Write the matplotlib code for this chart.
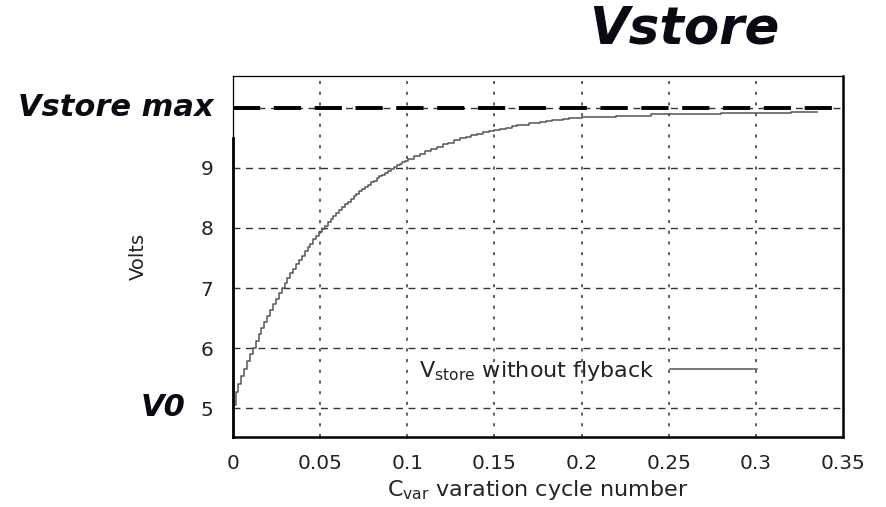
import matplotlib
matplotlib.use('Agg')
import matplotlib.pyplot as plt

# valores (escada da tensao Vstore)
ciclos = [0.0, 0.0015, 0.00315, 0.0048, 0.00645, 0.0081, 0.00975, 0.0114, 0.01305, 0.0147, 0.01635,
          0.018, 0.01965, 0.0213, 0.02295, 0.0246, 0.02625, 0.0279, 0.02955, 0.0312, 0.03285,
          0.0345, 0.03615, 0.0378, 0.03945, 0.0411, 0.04275, 0.0444, 0.04605, 0.0477, 0.04935,
          0.051, 0.05265, 0.0543, 0.05595, 0.0576, 0.05925, 0.0609, 0.06255, 0.0642, 0.06585,
          0.0675, 0.06915, 0.0708, 0.07245, 0.0741, 0.07575, 0.0774, 0.07905, 0.0807, 0.08235,
          0.084, 0.08565, 0.0873, 0.08895, 0.0906, 0.09225, 0.0939, 0.09555, 0.0972, 0.09885,
          0.1005, 0.1038, 0.1071, 0.1104, 0.1137, 0.117, 0.1203, 0.1236, 0.1269,
          0.1302, 0.1335, 0.1368, 0.1401, 0.1434, 0.1467, 0.15, 0.1533, 0.1566, 0.1599,
          0.1632, 0.1665, 0.1698, 0.1731, 0.1764, 0.1797, 0.183, 0.1863, 0.1896, 0.1929,
          0.1962, 0.2, 0.22, 0.24, 0.26, 0.28, 0.30, 0.32, 0.335]
vstore = [5.05, 5.27, 5.40, 5.53, 5.66, 5.78, 5.90, 6.01, 6.12, 6.23, 6.34,
          6.44, 6.54, 6.64, 6.73, 6.82, 6.91, 7.00, 7.08, 7.17, 7.25,
          7.32, 7.40, 7.47, 7.54, 7.61, 7.68, 7.74, 7.81, 7.87, 7.93,
          7.98, 8.04, 8.10, 8.15, 8.20, 8.25, 8.30, 8.35, 8.40, 8.44,
          8.48, 8.53, 8.57, 8.61, 8.65, 8.69, 8.72, 8.76, 8.79, 8.83,
          8.86, 8.89, 8.92, 8.95, 8.98, 9.01, 9.04, 9.07, 9.09, 9.12,
          9.14, 9.19, 9.23, 9.28, 9.32, 9.35, 9.39, 9.42, 9.46,
          9.49, 9.51, 9.54, 9.57, 9.59, 9.61, 9.63, 9.65, 9.67, 9.69,
          9.71, 9.72, 9.74, 9.75, 9.77, 9.78, 9.79, 9.80, 9.82, 9.83,
          9.83, 9.84, 9.87, 9.89, 9.90, 9.91, 9.92, 9.93, 9.93]

vstore_max = 10
v0 = 5
xticks = [0, 0.05, 0.1, 0.15, 0.2, 0.25, 0.3, 0.35]
xticklabels = ['0', '0.05', '0.1', '0.15', '0.2', '0.25', '0.3', '0.35']
yticks = [5, 6, 7, 8, 9]

plt.rcParams['font.family'] = ['DejaVu Sans']

fig = plt.figure(figsize=(8.87, 5.07), dpi=100)
ax = fig.add_axes([233/887, 70/507, 610/887, 361/507])

ax.set_xlim(0, 0.35)
ax.set_ylim(4.52, 10.53)

# grade
for x in xticks[1:-1]:
    ax.plot([x, x], [4.52, 10.53], color='#333333', lw=1.1, ls=(0, (2, 5)), zorder=1)
for y in yticks + [vstore_max]:
    ax.plot([0, 0.35], [y, y], color='#333333', lw=1.0, ls=(0, (5, 4)), zorder=1)

# linha Vstore max
ax.axhline(vstore_max, color='black', lw=2.8, ls=(0, (7, 3.5)), zorder=3)

ax.plot(ciclos, vstore, drawstyle='steps-post', color='#555555', lw=1.1, zorder=4,
        label='V$_{\\mathregular{store}}$ without flyback')

ax.set_xticks(xticks)
ax.set_xticklabels(xticklabels)
ax.set_yticks(yticks)
ax.tick_params(length=0, labelsize=14.5, colors='#222222')
ax.tick_params(axis='x', pad=12)
ax.tick_params(axis='y', pad=14)

ax.set_xlabel('C$_{\\mathregular{var}}$ varation cycle number', fontsize=16, color='#222222', labelpad=4)
ax.set_ylabel('Volts', fontsize=14, color='#222222', labelpad=38)

for lado in ['right', 'bottom']:
    ax.spines[lado].set_linewidth(1.8)
ax.spines['top'].set_linewidth(0.9)
ax.spines['left'].set_linewidth(0.9)
ax.plot([0, 0], [4.52, 9.5], color='black', lw=2.0, clip_on=False, zorder=5)

ax.legend(loc='center right', bbox_to_anchor=(757/887, 1 - 371/507),
          bbox_transform=fig.transFigure, frameon=False, markerfirst=False,
          handlelength=3.9, handletextpad=0.7, borderpad=0, borderaxespad=0,
          fontsize=16, labelcolor='#222222')

# textos em destaque
fig.text(684/887, 1 - 30/507, 'Vstore', fontsize=37, fontweight='bold', style='italic',
         ha='center', va='center', color='#0a0a14')
fig.text(116/887, 1 - 107/507, 'Vstore max', fontsize=22, fontweight='bold', style='italic',
         ha='center', va='center', color='#0a0a14')
fig.text(163/887, 1 - 408/507, 'V0', fontsize=22, fontweight='bold', style='italic',
         ha='center', va='center', color='#0a0a14')

fig.savefig('out.png', dpi=100)
